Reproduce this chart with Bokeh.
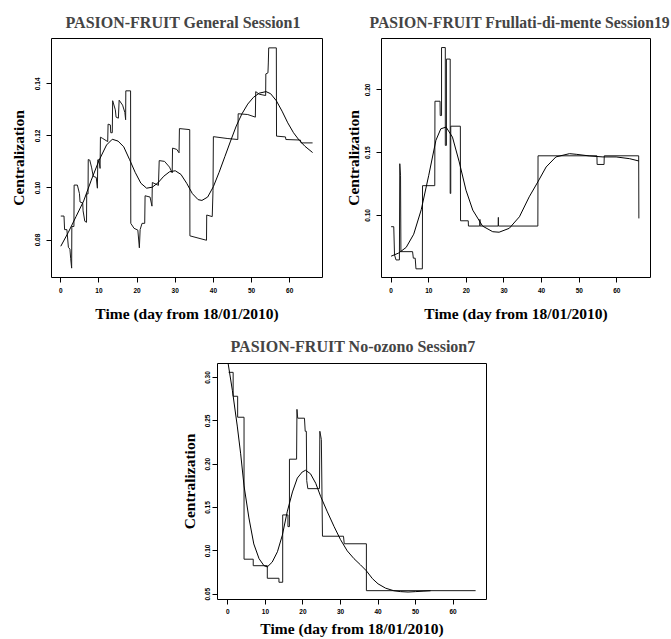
from bokeh.plotting import figure
from bokeh.layouts import column, row
from bokeh.models import Spacer, FixedTicker, NumeralTickFormatter, Range1d
from bokeh.embed import file_html
from bokeh.resources import INLINE

# ---------------- data ----------------
title1 = "PASION-FRUIT General Session1"
title2 = "PASION-FRUIT Frullati-di-mente Session19"
title3 = "PASION-FRUIT No-ozono Session7"
xlabel = "Time (day from 18/01/2010)"
ylabel = "Centralization"
xticks = [0, 10, 20, 30, 40, 50, 60]
yticks1 = [0.08, 0.10, 0.12, 0.14]
yticks2 = [0.10, 0.15, 0.20]
yticks3 = [0.05, 0.10, 0.15, 0.20, 0.25, 0.30]

# Panel 1 observed centralization (step-like trace)
step1_t = [0, 0.85, 1.0, 1.6, 2.0, 2.4, 2.6, 2.85, 2.9, 3.45, 3.5, 4.35, 4.9, 5.05, 5.75, 5.85,
           6.3, 6.75, 6.8, 7.15, 7.2, 7.6, 8.1, 8.5, 9.3, 9.6, 9.7, 10.0, 10.3, 10.4, 11.0, 12.3,
           12.4, 13.0, 13.1, 13.5, 13.6, 14.3, 14.5, 15.1, 15.3, 16.2, 16.8, 17.0, 17.05, 18.3,
           18.35, 19.2, 20.2, 20.6, 20.8, 21.3, 22.0, 22.1, 23.4, 23.9, 24.0, 25.6, 25.8, 27.2,
           28.5, 29.2, 29.3, 30.4, 31.0, 31.1, 33.8, 33.85, 38.2, 38.25, 39.7, 39.9, 40.0, 43.6,
           46.4, 46.5, 49.0, 51.0, 51.1, 52.0, 53.7, 53.75, 54.3, 54.4, 54.5, 56.5, 56.55, 58.9,
           59.0, 62.8, 63.0, 66.0]
step1_c = [0.0892, 0.0892, 0.0840, 0.0840, 0.0772, 0.0765, 0.0728, 0.0692, 0.0852, 0.0852,
           0.1011, 0.1011, 0.0978, 0.0946, 0.0942, 0.0912, 0.0872, 0.0868, 0.0977, 0.0977,
           0.1109, 0.1107, 0.1077, 0.1045, 0.1040, 0.0999, 0.1108, 0.1108, 0.1075, 0.1195,
           0.1190, 0.1178, 0.1245, 0.1242, 0.1212, 0.1212, 0.1335, 0.1300, 0.1272, 0.1268,
           0.1337, 0.1318, 0.1290, 0.1262, 0.1373, 0.1373, 0.0864, 0.0845, 0.0838, 0.0770,
           0.0840, 0.0864, 0.0864, 0.0970, 0.0965, 0.0930, 0.1021, 0.1010, 0.1105, 0.1102,
           0.1080, 0.1058, 0.1153, 0.1148, 0.1135, 0.1228, 0.1224, 0.0816, 0.0799, 0.0896,
           0.0890, 0.0990, 0.1197, 0.1190, 0.1186, 0.1285, 0.1282, 0.1272, 0.1370, 0.1360,
           0.1355, 0.1438, 0.1442, 0.1480, 0.1538, 0.1538, 0.1199, 0.1196, 0.1186, 0.1184,
           0.1173, 0.1173]
# Panel 1 smoothed trend
smooth1_t = [0, 2, 4, 6, 8, 10, 12, 13.5, 15, 16.5, 18, 19.5, 21, 22.5, 24, 25.5, 27, 28.5, 30,
             31.5, 33, 34.5, 36, 37, 38.5, 40, 41.5, 43, 44.5, 46, 47.5, 49, 50.5, 52, 53.8, 55,
             56.5, 58, 59.5, 61, 62.5, 64, 66]
smooth1_c = [0.0776, 0.0830, 0.0890, 0.0950, 0.1030, 0.1105, 0.1165, 0.1187, 0.1180, 0.1158,
             0.1110, 0.1060, 0.1018, 0.0999, 0.1003, 0.1020, 0.1045, 0.1062, 0.1066, 0.1052,
             0.1018, 0.0978, 0.0955, 0.0952, 0.0965, 0.1005, 0.1060, 0.1120, 0.1180, 0.1238,
             0.1285, 0.1322, 0.1348, 0.1364, 0.1370, 0.1362, 0.1335, 0.1295, 0.1250, 0.1212,
             0.1183, 0.1160, 0.1136]

# Panel 2
step2_t = [0, 0.7, 0.9, 1.3, 2.2, 2.3, 2.5, 2.6, 5.7, 5.9, 6.4, 6.6, 8.3, 8.35, 11.6, 11.65,
           13.0, 13.05, 13.4, 13.4, 14.4, 14.4, 14.7, 14.7, 15.7, 15.7, 15.85, 15.85, 18.4,
           18.45, 20.5, 20.55, 23.55, 23.6, 23.65, 28.45, 28.5, 28.55, 39.0, 39.05, 54.7,
           54.75, 56.6, 56.65, 65.8, 65.85]
step2_c = [0.0910, 0.0910, 0.0685, 0.0645, 0.0645, 0.1412, 0.1320, 0.0711, 0.0711, 0.0659,
           0.0659, 0.0574, 0.0574, 0.1237, 0.1237, 0.1910, 0.1910, 0.1796, 0.1796, 0.2338,
           0.2338, 0.1558, 0.1558, 0.2246, 0.2246, 0.1175, 0.1175, 0.1711, 0.1711, 0.0957,
           0.0957, 0.0915, 0.0915, 0.0968, 0.0915, 0.0915, 0.0984, 0.0915, 0.0915, 0.1475,
           0.1475, 0.1406, 0.1406, 0.1475, 0.1475, 0.0976]
smooth2_t = [0, 2, 4, 6, 8, 10, 11.9, 13.2, 14.6, 16.3, 18.1, 19.9, 21.7, 24.3, 27.0, 28.7,
             31.4, 34.1, 36.7, 39.0, 41.2, 43.8, 47.4, 49.2, 52.7, 56.3, 59.8, 63.4, 65.8]
smooth2_c = [0.0675, 0.0700, 0.0745, 0.0850, 0.1045, 0.1320, 0.1598, 0.1690, 0.1704, 0.1624,
             0.1426, 0.1201, 0.1042, 0.0915, 0.0870, 0.0866, 0.0897, 0.0989, 0.1148, 0.1267,
             0.1386, 0.1466, 0.1492, 0.1487, 0.1474, 0.1466, 0.1466, 0.1452, 0.1434]

# Panel 3
step3_t = [0.2, 1.4, 1.4, 2.6, 2.6, 4.3, 4.3, 6.75, 6.75, 10.5, 10.5, 13.6, 13.6, 14.6, 14.6,
           16.0, 16.0, 16.4, 16.4, 18.3, 18.4, 18.6, 20.4, 20.6, 20.9, 21.0, 21.3, 24.4, 24.5,
           24.9, 25.2, 30.8, 31.0, 36.9, 36.9, 66.0]
step3_c = [0.306, 0.306, 0.2784, 0.2784, 0.2542, 0.2542, 0.0904, 0.0904, 0.0829, 0.0829,
           0.0684, 0.0684, 0.0638, 0.0638, 0.1415, 0.1415, 0.128, 0.128, 0.2058, 0.2058,
           0.2633, 0.2531, 0.2531, 0.238, 0.238, 0.1812, 0.1718, 0.1718, 0.238, 0.2285,
           0.1169, 0.1169, 0.1082, 0.1082, 0.0541, 0.0541]
smooth3_t = [0, 1.2, 2.5, 3.4, 4.3, 5.6, 6.9, 8.3, 9.6, 10.5, 11.8, 13.2, 14.5, 15.8, 17.2,
             18.5, 19.8, 20.7, 22.0, 23.4, 24.7, 26.5, 28.3, 30.0, 31.8, 33.6, 35.3, 36.9,
             38.5, 40, 42, 44.2, 46, 48, 50, 52, 54]
smooth3_c = [0.318, 0.285, 0.244, 0.212, 0.175, 0.138, 0.108, 0.091, 0.083, 0.0815, 0.087,
             0.099, 0.118, 0.145, 0.168, 0.184, 0.191, 0.193, 0.189, 0.178, 0.163, 0.145,
             0.128, 0.113, 0.100, 0.091, 0.084, 0.077, 0.068, 0.062, 0.057, 0.054, 0.053,
             0.0525, 0.053, 0.0535, 0.054]

SERIF = "Liberation Serif"
SANS = "Liberation Sans"


def make_panel(title, st, sc, mt, mc, xr, yr, yticks, width, height,
               left, right, top, bottom, title_offset=0, title_standoff=13,
               title_size="16px", xlab_standoff=9, xlabel_standoff=5,
               ylabel_standoff=6, ylab_standoff=6):
    p = figure(width=width, height=height, output_backend="svg", toolbar_location=None,
               x_range=Range1d(*xr), y_range=Range1d(*yr),
               min_border_left=left, min_border_right=right,
               min_border_top=top, min_border_bottom=bottom)
    p.background_fill_color = "white"
    p.border_fill_color = "white"
    p.outline_line_color = "black"
    p.outline_line_width = 1
    p.grid.visible = False
    p.title.text = title
    p.title.text_font = SERIF
    p.title.text_font_style = "bold"
    p.title.text_font_size = title_size
    p.title.text_line_height = 1.0
    p.title.align = "left"
    p.title.offset = title_offset
    p.title.standoff = title_standoff

    for ax in (p.xaxis[0], p.yaxis[0]):
        ax.axis_line_color = None
        ax.major_tick_out = 5
        ax.major_tick_in = 0
        ax.major_tick_line_color = "black"
        ax.minor_tick_line_color = None
        ax.major_label_text_font = SANS
        ax.major_label_text_font_size = "6.5px"
        ax.major_label_text_font_style = "bold"
        ax.major_label_text_color = "black"
        ax.axis_label_text_font = SERIF
        ax.axis_label_text_font_style = "bold"
        ax.axis_label_text_font_size = "15.5px"
        ax.axis_label_text_color = "black"
    p.xaxis[0].ticker = FixedTicker(ticks=xticks)
    p.xaxis[0].major_label_standoff = xlabel_standoff
    p.xaxis[0].axis_label = xlabel
    p.xaxis[0].axis_label_standoff = xlab_standoff
    p.yaxis[0].ticker = FixedTicker(ticks=yticks)
    p.yaxis[0].formatter = NumeralTickFormatter(format="0.00")
    p.yaxis[0].major_label_orientation = "vertical"
    p.yaxis[0].major_label_standoff = ylabel_standoff
    p.yaxis[0].axis_label = ylabel
    p.yaxis[0].axis_label_standoff = ylab_standoff

    p.line(st, sc, line_color="#1a1a1a", line_width=1)
    p.line(mt, mc, line_color="black", line_width=1)
    return p


p1 = make_panel(title1, step1_t, step1_c, smooth1_t, smooth1_c,
                (-2.43, 68.6), (0.0656, 0.1574), yticks1,
                336, 326, 51, 14, 33, 49, title_offset=14, title_standoff=15)
p2 = make_panel(title2, step2_t, step2_c, smooth2_t, smooth2_c,
                (-2.56, 68.94), (0.0505, 0.241), yticks2,
                335, 326, 45, 21, 38, 48, title_offset=-12, title_standoff=15,
                title_size="15.7px", ylab_standoff=1)
p3 = make_panel(title3, step3_t, step3_c, smooth3_t, smooth3_c,
                (-2.77, 68.9), (0.0439, 0.3162), yticks3,
                326, 313, 43, 14, 35, 38, title_offset=13, title_standoff=18,
                xlab_standoff=3, xlabel_standoff=4, ylabel_standoff=2, ylab_standoff=5)

layout = column(row(p1, p2), row(Spacer(width=174, height=313), p3))

open("out.html", "w").write(file_html(layout, INLINE))
